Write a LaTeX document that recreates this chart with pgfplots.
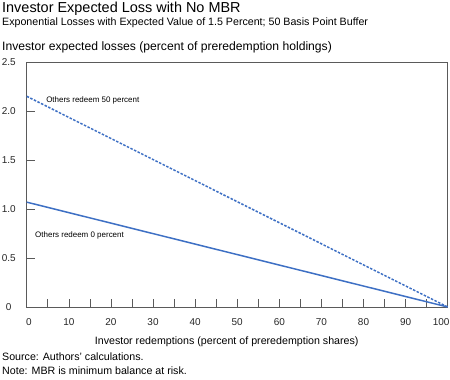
\documentclass[border=0pt]{standalone}
\usepackage{fontspec}
\setmainfont{Liberation Sans}
\usepackage{pgfplots}
\pgfplotsset{compat=1.18}
\definecolor{lineblue}{RGB}{62,112,196}
\definecolor{axisgray}{RGB}{90,90,90}
\begin{document}
\begin{tikzpicture}[x=1bp,y=1bp]
\path[use as bounding box] (0,0) rectangle (450,379);
\begin{axis}[
  at={(26.7bp,72bp)}, anchor=south west,
  scale only axis, width=421bp, height=245bp,
  xmin=0, xmax=100, ymin=0, ymax=2.5,
  axis line style={axisgray, line width=0.6bp},
  xtick={10,20,...,90},
  minor xtick={5,15,...,95},
  extra x ticks={0,100},
  extra x tick labels={\rule{4.6bp}{0pt}0,100\rule{13bp}{0pt}},
  extra x tick style={major tick length=0pt},
  ytick={0,0.5,1,1.5,2,2.5},
  yticklabels={0,0.5,1.0,1.5,2.0,2.5},
  tick align=inside,
  xtick pos=bottom, ytick pos=left,
  major tick length=8bp, minor tick length=8bp,
  every tick/.style={axisgray, line width=0.6bp},
  tick style={axisgray, line width=0.6bp},
  /pgf/number format/assume math mode=true,
  ticklabel style={font=\fontsize{10}{12}\selectfont, text=black!85},
  yticklabel style={anchor=center, xshift=-18bp},
  xticklabel style={yshift=-8bp},
  clip=false,
]
\addplot[lineblue, line width=1.5bp] coordinates {(0,1.07) (100,0)};
\addplot[lineblue, line width=1.5bp, dash pattern=on 2.5bp off 1.5bp] coordinates {(0,2.15) (100,0)};
\node[anchor=west, inner sep=0, font=\fontsize{8}{9.6}\selectfont] at (axis cs:4.6,2.11) {Others redeem 50 percent};
\node[anchor=west, inner sep=0, font=\fontsize{8}{9.6}\selectfont] at (axis cs:1.98,0.735) {Others redeem 0 percent};
\end{axis}
\node[anchor=base west, inner sep=0, font=\fontsize{14.5}{17}\selectfont] at (2,366.3) {Investor Expected Loss with No MBR};
\node[anchor=base west, inner sep=0, font=\fontsize{10.7}{12}\selectfont] at (2,354) {Exponential Losses with Expected Value of 1.5 Percent; 50 Basis Point Buffer};
\node[anchor=base west, inner sep=0, font=\fontsize{12.2}{14}\selectfont] at (2,329) {Investor expected losses (percent of preredemption holdings)};
\node[anchor=base, inner sep=0, font=\fontsize{10.7}{12}\selectfont] at (226.7,35) {Investor redemptions (percent of preredemption shares)};
\node[anchor=base west, inner sep=0, font=\fontsize{10.7}{12}\selectfont] at (2,18.3) {Source: Authors’ calculations.};
\node[anchor=base west, inner sep=0, font=\fontsize{10.7}{12}\selectfont] at (2,5) {Note: MBR is minimum balance at risk.};
\end{tikzpicture}
\end{document}
